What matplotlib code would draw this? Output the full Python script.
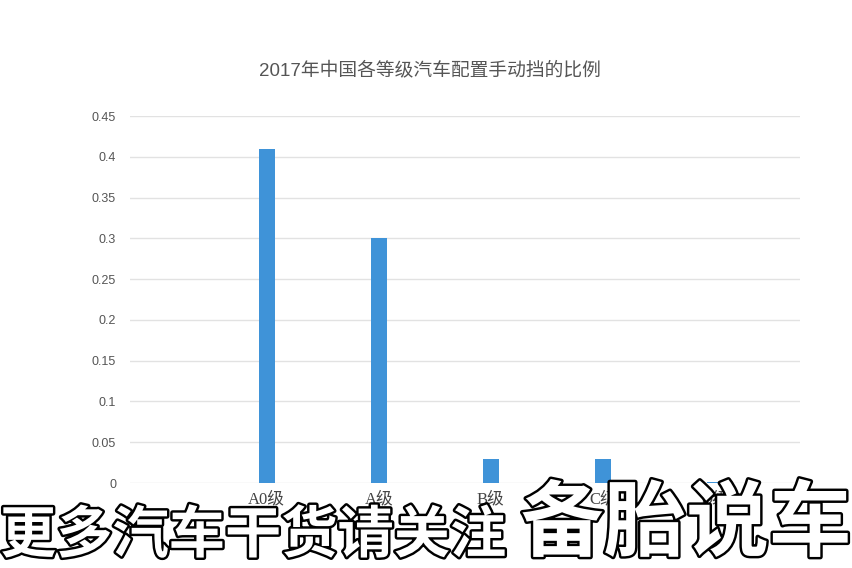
import matplotlib.pyplot as plt
import matplotlib.patheffects as pe

# data (first category has no visible label or bar)
categories = ['', 'A0级', 'A级', 'B级', 'C级', 'D级']
ratios = [0.0, 0.41, 0.30, 0.03, 0.03, 0.001]
y_ticks = [0, 0.05, 0.1, 0.15, 0.2, 0.25, 0.3, 0.35, 0.4, 0.45]
y_labels = ['0', '0.05', '0.1', '0.15', '0.2', '0.25', '0.3', '0.35', '0.4', '0.45']

title = '2017年中国各等级汽车配置手动挡的比例'
overlay_left = '更多汽车干货请关注'
overlay_right = '备胎说车'

plt.rcParams['font.family'] = ['Liberation Sans', 'Noto Sans CJK SC']

fig = plt.figure(figsize=(8.52, 5.68), dpi=100)
ax = fig.add_axes([130 / 852, 1 - 483 / 568, 670 / 852, 367 / 568])

x = list(range(len(categories)))
ax.bar(x, ratios, width=0.14, color='#3f93d8', zorder=3)

ax.set_ylim(0, 0.45)
ax.set_xlim(-0.22, 5.76)
ax.set_yticks(y_ticks)
ax.set_yticklabels(y_labels, fontsize=9, color='#555555')
ax.set_xticks(x)
ax.set_xticklabels(categories, fontsize=12, color='#444444',
                   family=['Liberation Serif', 'Noto Sans CJK SC'])
ax.tick_params(axis='both', length=0)
ax.tick_params(axis='y', pad=10)
ax.tick_params(axis='x', pad=6)
ax.grid(axis='y', color='#e2e2e2', linewidth=1, zorder=0)
for s in ax.spines.values():
    s.set_visible(False)

fig.text(430 / 852, 1 - 70 / 568, title, ha='center', va='center',
         fontsize=13.5, color='#555555')

# subtitle overlay burned into the screenshot
stroke = [pe.withStroke(linewidth=3.5, foreground='black')]
fig.text(0 / 852, 1 - 536 / 568, overlay_left, ha='left', va='center',
         fontsize=40.5, color='white', fontweight='bold',
         family='Noto Sans CJK SC', path_effects=stroke)
fig.text(521 / 852, 1 - 525 / 568, overlay_right, ha='left', va='center',
         fontsize=59.5, color='white', fontweight='bold',
         family='Noto Sans CJK SC', path_effects=stroke)

fig.savefig('out.png', dpi=100, facecolor='white')
